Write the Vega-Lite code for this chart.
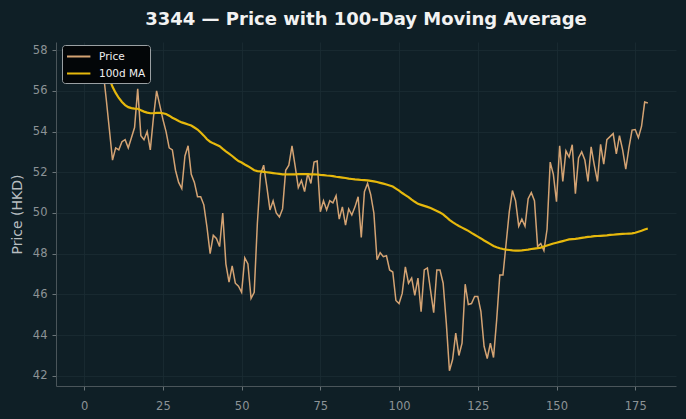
{
  "$schema": "https://vega.github.io/schema/vega-lite/v6.json",
  "width": 620,
  "height": 344,
  "autosize": {"type": "none"},
  "padding": {"left": 56, "top": 42, "right": 10, "bottom": 33},
  "background": "#0f1f26",
  "config": {
    "font": "DejaVu Sans",
    "view": {"stroke": null},
    "axis": {
      "domainColor": "#4a555a",
      "domainWidth": 1,
      "tickColor": "#6a7478",
      "tickSize": 4,
      "labelColor": "#8c9396",
      "labelFontSize": 11.5,
      "labelFont": "DejaVu Sans",
      "gridColor": "#1b2c33",
      "gridWidth": 0.8,
      "titleColor": "#b8bec1",
      "titleFont": "DejaVu Sans",
      "titleFontWeight": "normal",
      "titleFontSize": 14
    }
  },
  "title": {
    "text": "3344 — Price with 100-Day Moving Average",
    "font": "DejaVu Sans",
    "fontSize": 18,
    "fontWeight": "bold",
    "color": "#f2f2f2",
    "anchor": "middle",
    "offset": 13
  },
  "data": {
    "values": [
      {"i":0,"price":57.4,"ma":57.35},{"i":1,"price":57.2,"ma":57.3},{"i":2,"price":57.3,"ma":57.3},{"i":3,"price":57.1,"ma":57.25},{"i":4,"price":57.7,"ma":57.3},
      {"i":5,"price":57.3,"ma":57.3},{"i":6,"price":57.0,"ma":57.2},{"i":7,"price":55.6,"ma":57.0},{"i":8,"price":54.1,"ma":56.6},{"i":9,"price":52.6,"ma":56.2},
      {"i":10,"price":53.2,"ma":55.9},{"i":11,"price":53.1,"ma":55.65},{"i":12,"price":53.5,"ma":55.45},{"i":13,"price":53.6,"ma":55.3},{"i":14,"price":53.2,"ma":55.2},
      {"i":15,"price":53.7,"ma":55.15},{"i":16,"price":54.2,"ma":55.13},{"i":17,"price":56.1,"ma":55.12},{"i":18,"price":53.8,"ma":55.05},{"i":19,"price":53.6,"ma":54.98},
      {"i":20,"price":54.0,"ma":54.93},{"i":21,"price":53.1,"ma":54.9},{"i":22,"price":54.7,"ma":54.9},{"i":23,"price":56.0,"ma":54.92},{"i":24,"price":55.3,"ma":54.92},
      {"i":25,"price":54.6,"ma":54.9},{"i":26,"price":54.0,"ma":54.86},{"i":27,"price":53.2,"ma":54.78},{"i":28,"price":53.1,"ma":54.68},{"i":29,"price":52.1,"ma":54.6},
      {"i":30,"price":51.5,"ma":54.52},{"i":31,"price":51.2,"ma":54.45},{"i":32,"price":52.8,"ma":54.4},{"i":33,"price":53.3,"ma":54.35},{"i":34,"price":51.9,"ma":54.3},
      {"i":35,"price":51.5,"ma":54.2},{"i":36,"price":50.8,"ma":54.1},{"i":37,"price":50.8,"ma":53.95},{"i":38,"price":50.4,"ma":53.8},{"i":39,"price":49.3,"ma":53.62},
      {"i":40,"price":48.0,"ma":53.5},{"i":41,"price":48.9,"ma":53.42},{"i":42,"price":48.75,"ma":53.35},{"i":43,"price":48.35,"ma":53.28},{"i":44,"price":50.0,"ma":53.15},
      {"i":45,"price":47.5,"ma":53.03},{"i":46,"price":46.6,"ma":52.92},{"i":47,"price":47.4,"ma":52.8},{"i":48,"price":46.55,"ma":52.67},{"i":49,"price":46.4,"ma":52.55},
      {"i":50,"price":46.1,"ma":52.48},{"i":51,"price":47.8,"ma":52.38},{"i":52,"price":47.5,"ma":52.3},{"i":53,"price":45.8,"ma":52.2},{"i":54,"price":46.1,"ma":52.1},
      {"i":55,"price":49.5,"ma":52.06},{"i":56,"price":51.9,"ma":52.04},{"i":57,"price":52.35,"ma":52.02},{"i":58,"price":51.3,"ma":52.0},{"i":59,"price":50.15,"ma":51.98},
      {"i":60,"price":50.6,"ma":51.96},{"i":61,"price":50.0,"ma":51.94},{"i":62,"price":49.8,"ma":51.92},{"i":63,"price":50.2,"ma":51.9},{"i":64,"price":52.1,"ma":51.9},
      {"i":65,"price":52.35,"ma":51.9},{"i":66,"price":53.3,"ma":51.9},{"i":67,"price":52.3,"ma":51.9},{"i":68,"price":51.25,"ma":51.91},{"i":69,"price":51.6,"ma":51.91},
      {"i":70,"price":51.05,"ma":51.91},{"i":71,"price":51.95,"ma":51.91},{"i":72,"price":51.45,"ma":51.9},{"i":73,"price":52.5,"ma":51.9},{"i":74,"price":52.55,"ma":51.89},
      {"i":75,"price":50.06,"ma":51.87},{"i":76,"price":50.6,"ma":51.86},{"i":77,"price":50.15,"ma":51.84},{"i":78,"price":50.6,"ma":51.83},{"i":79,"price":50.5,"ma":51.81},
      {"i":80,"price":50.85,"ma":51.78},{"i":81,"price":49.7,"ma":51.76},{"i":82,"price":50.3,"ma":51.74},{"i":83,"price":49.4,"ma":51.72},{"i":84,"price":50.2,"ma":51.69},
      {"i":85,"price":49.9,"ma":51.67},{"i":86,"price":50.3,"ma":51.65},{"i":87,"price":50.8,"ma":51.64},{"i":88,"price":48.8,"ma":51.62},{"i":89,"price":51.05,"ma":51.61},
      {"i":90,"price":51.45,"ma":51.6},{"i":91,"price":50.9,"ma":51.58},{"i":92,"price":50.0,"ma":51.55},{"i":93,"price":47.7,"ma":51.52},{"i":94,"price":48.05,"ma":51.48},
      {"i":95,"price":47.85,"ma":51.44},{"i":96,"price":47.9,"ma":51.4},{"i":97,"price":47.2,"ma":51.35},{"i":98,"price":47.1,"ma":51.3},{"i":99,"price":45.7,"ma":51.2},
      {"i":100,"price":45.55,"ma":51.1},{"i":101,"price":46.05,"ma":50.98},{"i":102,"price":47.35,"ma":50.88},{"i":103,"price":46.55,"ma":50.78},{"i":104,"price":46.8,"ma":50.66},
      {"i":105,"price":45.95,"ma":50.55},{"i":106,"price":46.8,"ma":50.45},{"i":107,"price":45.15,"ma":50.4},{"i":108,"price":47.2,"ma":50.35},{"i":109,"price":47.3,"ma":50.3},
      {"i":110,"price":46.2,"ma":50.24},{"i":111,"price":45.1,"ma":50.17},{"i":112,"price":47.2,"ma":50.1},{"i":113,"price":47.2,"ma":50.02},{"i":114,"price":46.55,"ma":49.93},
      {"i":115,"price":44.6,"ma":49.8},{"i":116,"price":42.25,"ma":49.66},{"i":117,"price":42.8,"ma":49.55},{"i":118,"price":44.1,"ma":49.45},{"i":119,"price":43.0,"ma":49.36},
      {"i":120,"price":43.6,"ma":49.28},{"i":121,"price":46.5,"ma":49.2},{"i":122,"price":45.5,"ma":49.12},{"i":123,"price":45.55,"ma":49.02},{"i":124,"price":45.9,"ma":48.93},
      {"i":125,"price":45.9,"ma":48.84},{"i":126,"price":45.15,"ma":48.75},{"i":127,"price":43.45,"ma":48.65},{"i":128,"price":42.85,"ma":48.56},{"i":129,"price":43.6,"ma":48.47},
      {"i":130,"price":42.9,"ma":48.38},{"i":131,"price":44.75,"ma":48.32},{"i":132,"price":46.95,"ma":48.27},{"i":133,"price":46.95,"ma":48.23},{"i":134,"price":48.5,"ma":48.2},
      {"i":135,"price":50.05,"ma":48.18},{"i":136,"price":51.1,"ma":48.16},{"i":137,"price":50.6,"ma":48.15},{"i":138,"price":49.35,"ma":48.15},{"i":139,"price":49.7,"ma":48.16},
      {"i":140,"price":49.35,"ma":48.18},{"i":141,"price":50.7,"ma":48.2},{"i":142,"price":51.0,"ma":48.23},{"i":143,"price":50.6,"ma":48.25},{"i":144,"price":48.35,"ma":48.27},
      {"i":145,"price":48.5,"ma":48.3},{"i":146,"price":48.15,"ma":48.35},{"i":147,"price":49.2,"ma":48.4},{"i":148,"price":52.5,"ma":48.45},{"i":149,"price":51.9,"ma":48.5},
      {"i":150,"price":50.55,"ma":48.54},{"i":151,"price":53.3,"ma":48.58},{"i":152,"price":51.55,"ma":48.62},{"i":153,"price":53.05,"ma":48.66},{"i":154,"price":52.75,"ma":48.7},
      {"i":155,"price":53.35,"ma":48.72},{"i":156,"price":50.95,"ma":48.73},{"i":157,"price":52.7,"ma":48.75},{"i":158,"price":53.0,"ma":48.78},{"i":159,"price":52.6,"ma":48.8},
      {"i":160,"price":51.55,"ma":48.83},{"i":161,"price":53.25,"ma":48.84},{"i":162,"price":52.35,"ma":48.86},{"i":163,"price":51.55,"ma":48.87},{"i":164,"price":53.37,"ma":48.88},
      {"i":165,"price":52.4,"ma":48.89},{"i":166,"price":53.6,"ma":48.9},{"i":167,"price":53.75,"ma":48.92},{"i":168,"price":53.9,"ma":48.93},{"i":169,"price":52.9,"ma":48.95},
      {"i":170,"price":53.8,"ma":48.96},{"i":171,"price":53.1,"ma":48.97},{"i":172,"price":52.15,"ma":48.98},{"i":173,"price":53.2,"ma":48.99},{"i":174,"price":54.07,"ma":49.0},
      {"i":175,"price":54.1,"ma":49.03},{"i":176,"price":53.7,"ma":49.08},{"i":177,"price":54.25,"ma":49.13},{"i":178,"price":55.45,"ma":49.19},{"i":179,"price":55.4,"ma":49.24}
    ]
  },
  "encoding": {
    "x": {
      "field": "i",
      "type": "quantitative",
      "scale": {"domain": [-8.95, 187.95], "nice": false, "zero": false},
      "axis": {"values": [0, 25, 50, 75, 100, 125, 150, 175], "title": null, "labelPadding": 10}
    }
  },
  "layer": [
    {
      "mark": {"type": "line", "strokeWidth": 1.5, "clip": true},
      "encoding": {
        "y": {
          "field": "price",
          "type": "quantitative",
          "scale": {"domain": [41.5, 58.4], "nice": false, "zero": false},
          "axis": {"values": [42, 44, 46, 48, 50, 52, 54, 56, 58], "title": "Price (HKD)", "titlePadding": 8, "labelPadding": 5}
        },
        "color": {
          "datum": "Price",
          "type": "nominal",
          "scale": {"domain": ["Price", "100d MA"], "range": ["#d4a373", "#e6b80c"]},
          "legend": {
            "title": null,
            "orient": "none",
            "legendX": 6,
            "legendY": 3,
            "fillColor": "#030608",
            "strokeColor": "#9aa0a3",
            "cornerRadius": 3,
            "padding": 4,
            "labelColor": "#f0f0f0",
            "labelFontSize": 10.5,
            "labelFont": "DejaVu Sans",
            "symbolType": "M-1,0L2.6,0",
            "symbolSize": 169,
            "symbolStrokeWidth": 2,
            "rowPadding": 4,
            "labelOffset": 18
          }
        }
      }
    },
    {
      "mark": {"type": "line", "strokeWidth": 2.2, "clip": true},
      "encoding": {
        "y": {"field": "ma", "type": "quantitative"},
        "color": {"datum": "100d MA", "type": "nominal"}
      }
    }
  ]
}
